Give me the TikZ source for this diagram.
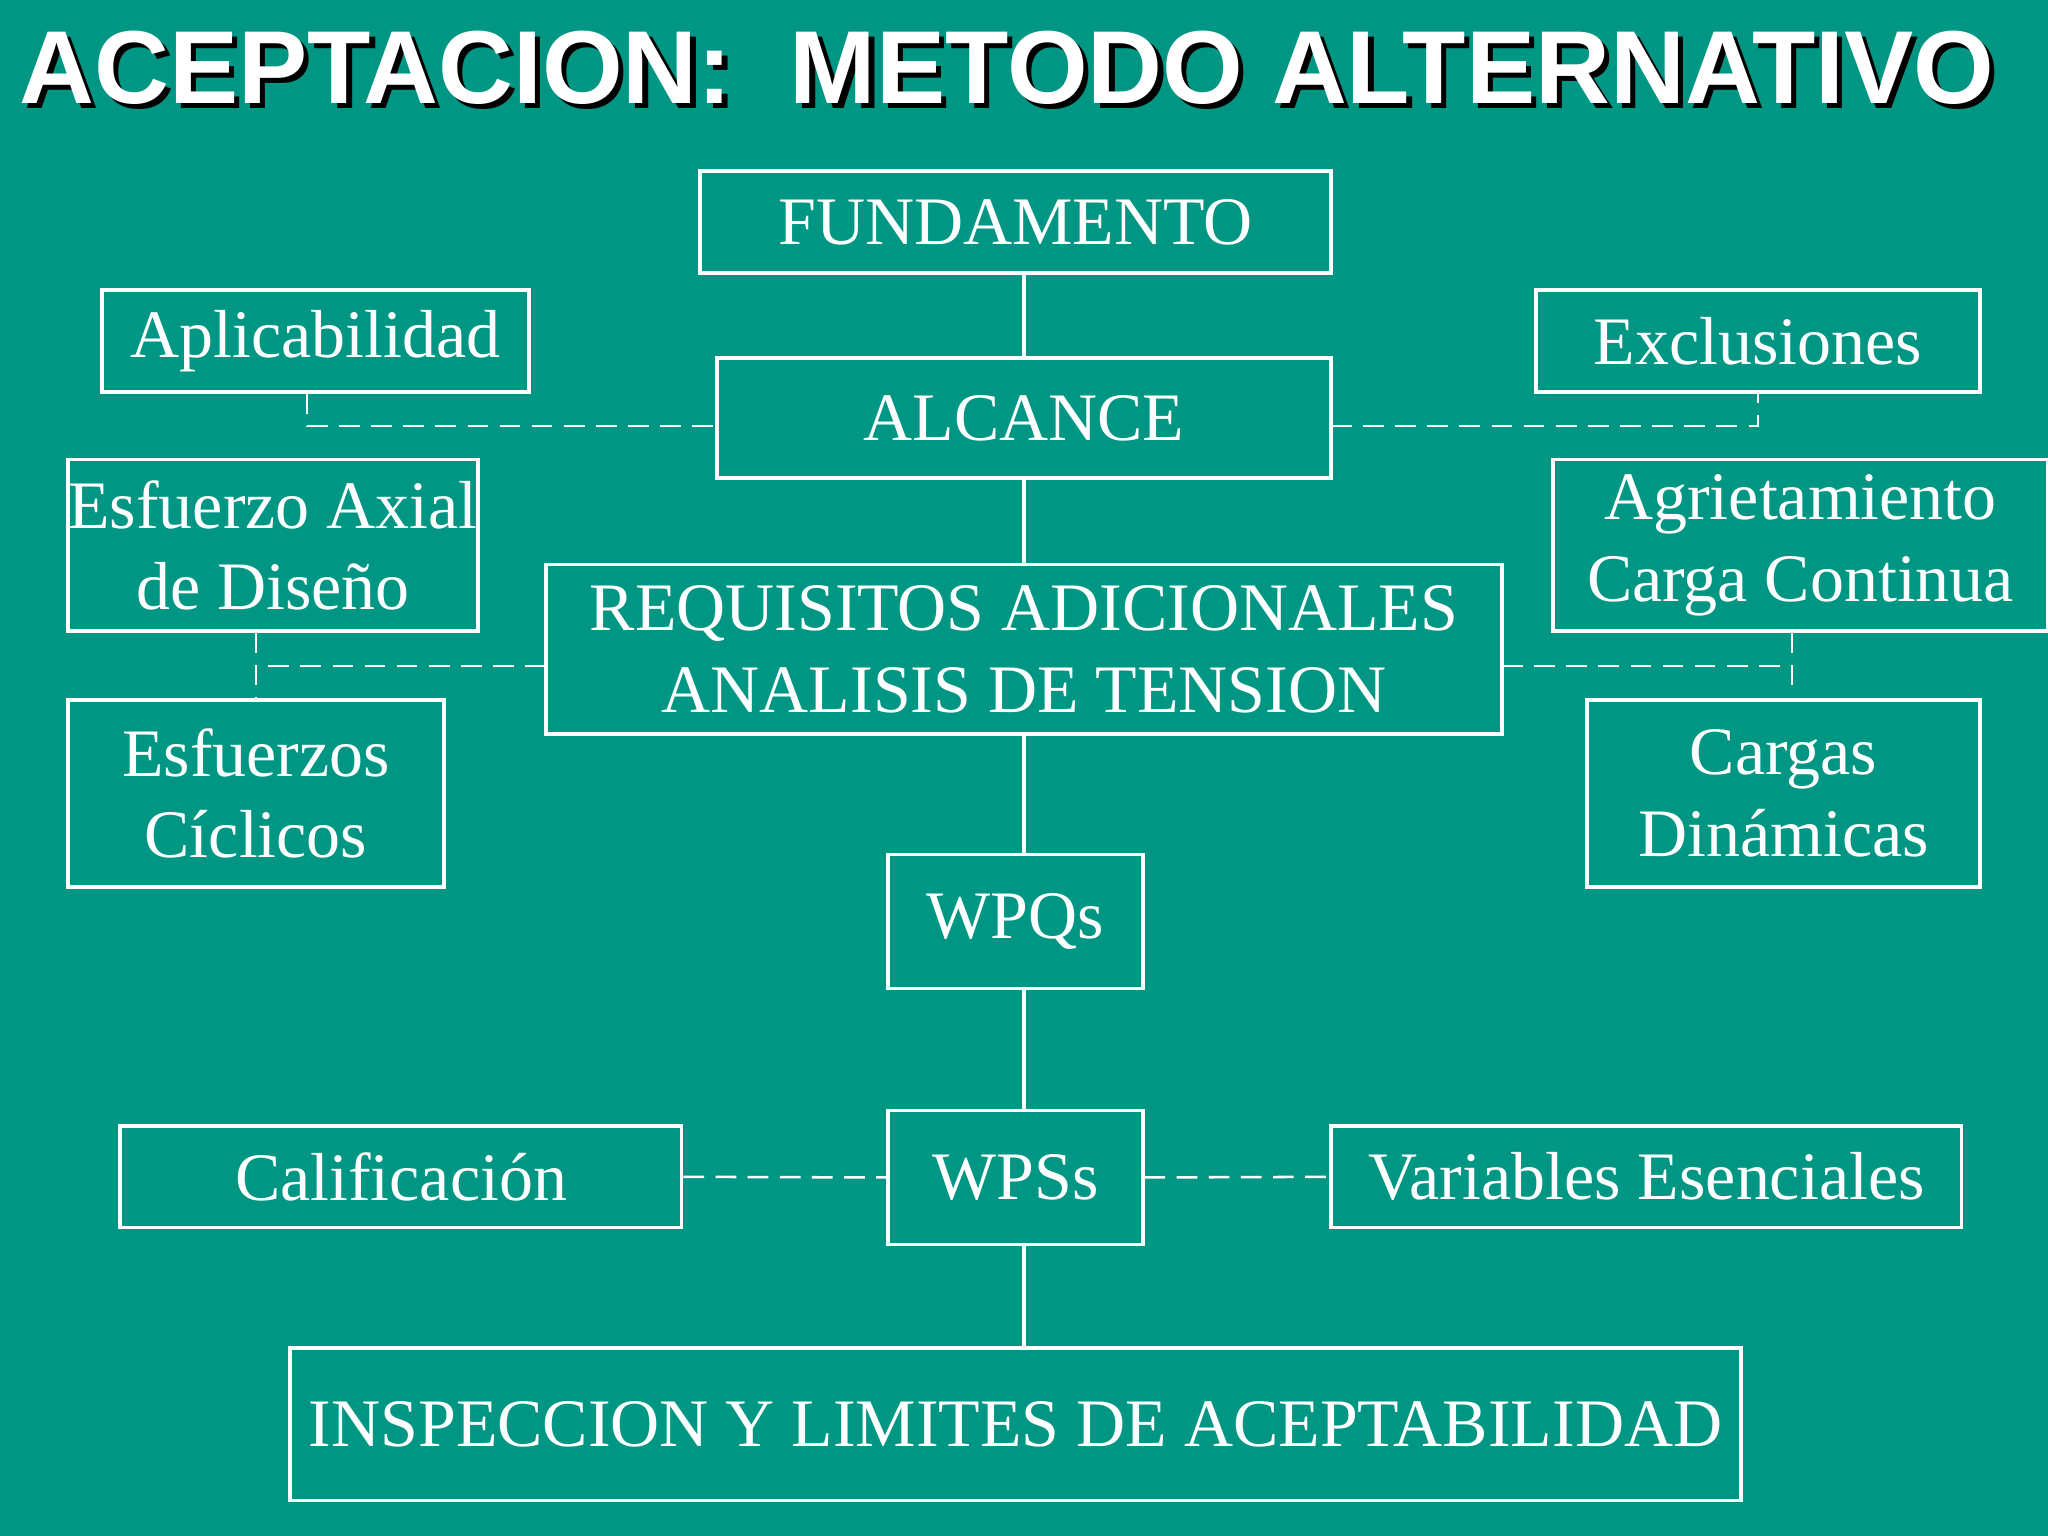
\documentclass[tikz,border=0pt]{standalone}
\usepackage{fontspec}
\setmainfont{Liberation Serif}
\newfontfamily\titlefont{Liberation Sans}
\definecolor{bg}{HTML}{009684}
\begin{document}
\begin{tikzpicture}[x=0.02cm,y=-0.02cm,
  box/.style={draw=white,line width=1.5pt,text=white,font=\fontsize{29.6}{35.5}\selectfont,align=center,inner sep=0pt},
  ttl/.style={font=\titlefont\bfseries\fontsize{45.2}{50}\selectfont},
  solidc/.style={draw=white,line width=2pt},
  dashc/.style={draw=white,line width=1.1pt,dash pattern=on 9pt off 5pt}]
\fill[bg] (0,0) rectangle (1568,1176);
\useasboundingbox (0,0) rectangle (1568,1176);
\node[ttl,text=black] (tsh) at (775,56) {ACEPTACION:\ \ METODO ALTERNATIVO};
\node[ttl,text=white] (title) at (771,52) {ACEPTACION:\ \ METODO ALTERNATIVO};
\node[box,minimum width=9.66cm,minimum height=1.56cm] (fund) at (777.5,170) {FUNDAMENTO};
\node[box,minimum width=9.4cm,minimum height=1.84cm] (alc) at (784,320) {ALCANCE};
\node[box,minimum width=6.54cm,minimum height=1.56cm] (apl) at (241.5,261) {Aplicabilidad};
\node[box,minimum width=6.8cm,minimum height=1.56cm] (exc) at (1346,261) {Exclusiones};
\node[box,minimum width=6.28cm,minimum height=2.62cm] (esa) at (209,417.5) {Esfuerzo Axial\\de Diseño};
\node[box,minimum width=7.58cm,minimum height=2.62cm] (agr) at (1378.5,417.5) {Agrietamiento\\Carga Continua};
\node[box,minimum width=14.64cm,minimum height=2.6cm] (req) at (784,497) {REQUISITOS ADICIONALES\\ANALISIS DE TENSION};
\node[box,minimum width=5.76cm,minimum height=2.86cm] (esc) at (196,607.5) {Esfuerzos\\Cíclicos};
\node[box,minimum width=6.02cm,minimum height=2.86cm] (cgd) at (1365.5,607.5) {Cargas\\Dinámicas};
\node[box,minimum width=3.9cm,minimum height=2.06cm] (wpq) at (777.5,705.5) {WPQs};
\node[box,minimum width=3.9cm,minimum height=2.06cm] (wps) at (777.5,901.5) {WPSs};
\node[box,minimum width=8.6cm,minimum height=1.56cm] (cal) at (307,901) {Calificación};
\node[box,minimum width=9.66cm,minimum height=1.56cm] (var) at (1260.5,901) {Variables Esenciales};
\node[box,minimum width=22.22cm,minimum height=2.34cm] (ins) at (777.5,1090.5) {INSPECCION Y LIMITES DE ACEPTABILIDAD};
\coordinate (aL) at (549,326);
\coordinate (aR) at (1019,326);
\coordinate (rL) at (418,510);
\coordinate (rR) at (1150,510);
\coordinate (rRend) at (1372,526);
\draw[solidc] (alc.north |- fund.south) -- (alc.north);
\draw[solidc] (alc.south) -- (req.north);
\draw[solidc] (req.south) -- (req.south |- wpq.north);
\draw[solidc] (req.south |- wpq.south) -- (req.south |- wps.north);
\draw[solidc] (req.south |- wps.south) -- (req.south |- ins.north);
\draw[dashc] (aL -| 235,0) -- (aL);
\draw[dashc] (apl.south -| 235,0) -- (aL -| 235,0);
\draw[dashc] (aR) -| (exc.south);
\draw[dashc] (esc.north |- esa.south) -- (esc.north);
\draw[dashc] (rL) -- (rL -| esc.north);
\draw[dashc] (rR) -- (rR -| rRend);
\draw[dashc] (rRend |- agr.south) -- (rRend);
\draw[dashc] (cal.east) -- (wps.west);
\draw[dashc] (wps.east) -- (var.west);
\end{tikzpicture}
\end{document}
